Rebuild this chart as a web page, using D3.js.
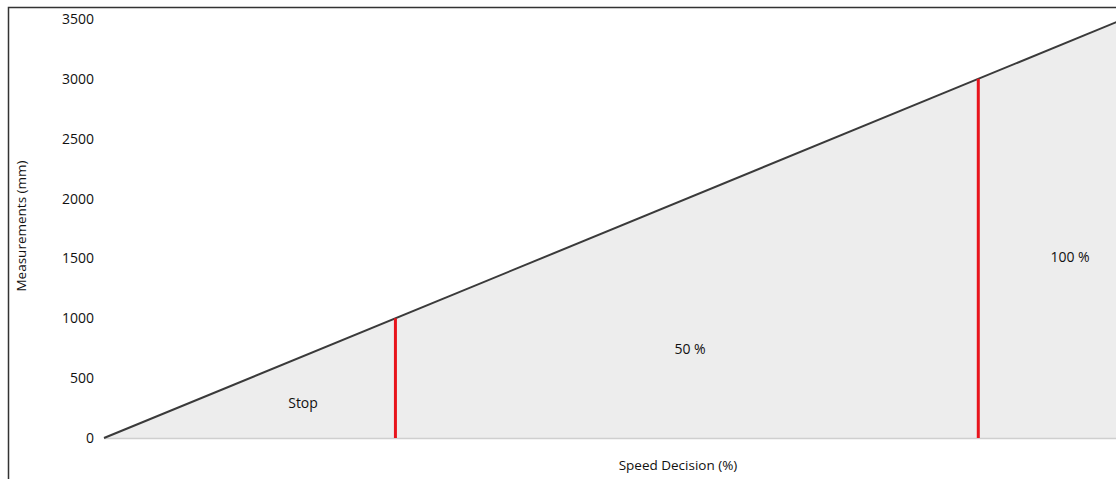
<!DOCTYPE html>
<html>
<head>
<meta charset="utf-8">
<script src="https://d3js.org/d3.v7.min.js"></script>
<style>
  body { margin: 0; background: #fff; }
  svg text { font-family: "Open Sans", "Noto Sans", sans-serif; fill: #111; }
</style>
</head>
<body>
<div id="chart"></div>
<script>
// data
const yTicks = [0, 500, 1000, 1500, 2000, 2500, 3000, 3500];
const rampPoints = [0, 3500];          // measurement at start and end of the ramp
const thresholds = [1000, 3000];       // decision boundaries (mm)
const zoneLabels = ["Stop", "50 %", "100 %"];
const zoneLabelValues = [
  { pos: 683, height: 284 },
  { pos: 2011, height: 735 },
  { pos: 3315, height: 1504 }
];

const W = 1116, H = 479;
const svg = d3.select("#chart").append("svg")
  .attr("width", W)
  .attr("height", H);

// outer frame
svg.append("rect")
  .attr("x", 8.5).attr("y", 7.5)
  .attr("width", W + 10).attr("height", H + 10)
  .attr("fill", "none")
  .attr("stroke", "#333")
  .attr("stroke-width", 1.5);

const x = d3.scaleLinear().domain([0, 3500]).range([104, 1124]);
const y = d3.scaleLinear().domain([0, 3500]).range([438, 19]);

// shaded area under the ramp
const area = d3.area()
  .x(d => x(d))
  .y0(y(0))
  .y1(d => y(d));
svg.append("path")
  .datum(rampPoints)
  .attr("d", area)
  .attr("fill", "#ededed");

// baseline
svg.append("line")
  .attr("x1", x(0)).attr("x2", W)
  .attr("y1", y(0) + 0.5).attr("y2", y(0) + 0.5)
  .attr("stroke", "#cfcfcf")
  .attr("stroke-width", 1.5);

// ramp line
svg.append("path")
  .datum(rampPoints)
  .attr("d", d3.line().x(d => x(d)).y(d => y(d)))
  .attr("fill", "none")
  .attr("stroke", "#3a3a3a")
  .attr("stroke-width", 2);

// threshold lines
svg.append("g")
  .selectAll("line")
  .data(thresholds)
  .join("line")
  .attr("x1", d => x(d)).attr("x2", d => x(d))
  .attr("y1", d => y(d)).attr("y2", y(0))
  .attr("stroke", "#e8141c")
  .attr("stroke-width", 3);

// y axis tick labels (no axis line)
const yAxis = svg.append("g")
  .attr("transform", "translate(94,0)")
  .call(d3.axisLeft(y).tickValues(yTicks).tickFormat(d3.format("d")).tickSize(0).tickPadding(0));
yAxis.select(".domain").remove();
yAxis.selectAll("text")
  .style("font-size", "14px")
  .style("font-family", "\"Open Sans\", \"Noto Sans\", sans-serif")
  .attr("fill", "#111");

// zone labels
svg.append("g")
  .selectAll("text")
  .data(zoneLabels)
  .join("text")
  .attr("x", (d, i) => x(zoneLabelValues[i].pos))
  .attr("y", (d, i) => y(zoneLabelValues[i].height))
  .attr("text-anchor", "middle")
  .attr("dominant-baseline", "middle")
  .style("font-size", "14px")
  .text(d => d);

// axis titles
svg.append("text")
  .attr("x", 678).attr("y", 466)
  .attr("text-anchor", "middle")
  .attr("dominant-baseline", "middle")
  .style("font-size", "13.5px")
  .text("Speed Decision (%)");

svg.append("text")
  .attr("transform", "translate(22,226) rotate(-90)")
  .attr("text-anchor", "middle")
  .attr("dominant-baseline", "middle")
  .style("font-size", "13.5px")
  .text("Measurements (mm)");
</script>
</body>
</html>
